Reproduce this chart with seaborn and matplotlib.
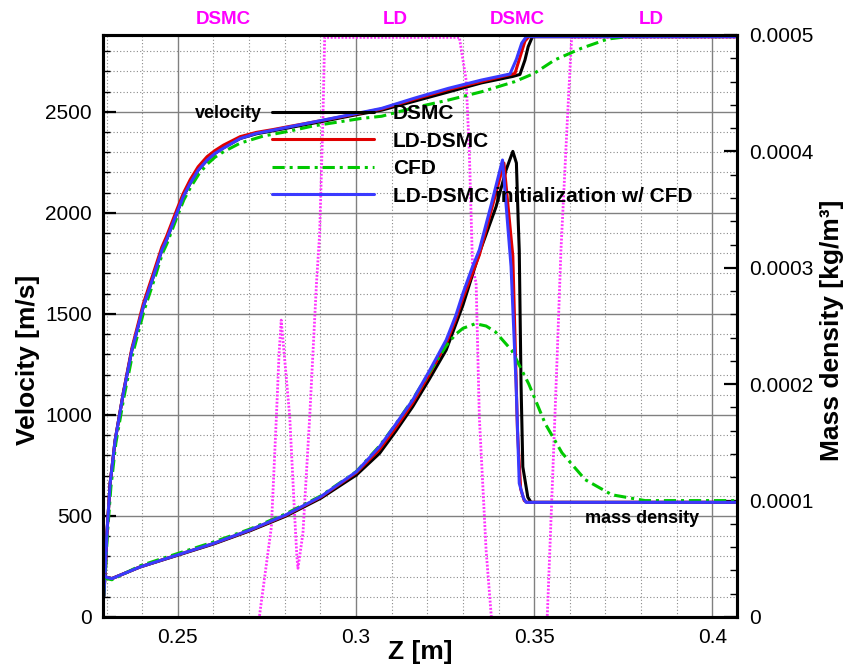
import numpy as np
import pandas as pd
import matplotlib
matplotlib.use("Agg")
import matplotlib.pyplot as plt
import matplotlib.transforms as mtrans
from matplotlib.ticker import MultipleLocator
from matplotlib.lines import Line2D
import seaborn as sns

sns.set_style("white")
plt.rcParams['font.family'] = ['Liberation Sans', 'DejaVu Sans']
plt.rcParams.update({"text.color": "black", "axes.labelcolor": "black",
                     "xtick.color": "black", "ytick.color": "black"})

# ---------------- data ----------------
# velocity [m/s]
vel_dsmc_z = [0.2292, 0.2297, 0.2301, 0.2310, 0.2324, 0.2347, 0.2371, 0.2403, 0.2431, 0.2455,
              0.2468, 0.2497, 0.2515, 0.2535, 0.2557, 0.2582, 0.2604, 0.2628, 0.2675, 0.2720,
              0.2767, 0.2815, 0.2908, 0.3002, 0.3072, 0.3165, 0.3259, 0.3352, 0.3440, 0.3460,
              0.3474, 0.3483, 0.3495, 0.3600, 0.4070]
vel_dsmc_v = [100, 240, 414, 661, 874, 1107, 1320, 1535, 1683, 1815,
              1865, 1998, 2079, 2147, 2211, 2261, 2294, 2322, 2368, 2391,
              2406, 2422, 2453, 2486, 2508, 2553, 2598, 2643, 2675, 2685,
              2756, 2822, 2872, 2872, 2872]

vel_ld_z = [0.2292, 0.2297, 0.2301, 0.2310, 0.2324, 0.2347, 0.2371, 0.2403, 0.2431, 0.2455,
            0.2468, 0.2497, 0.2515, 0.2535, 0.2557, 0.2582, 0.2604, 0.2628, 0.2675, 0.2720,
            0.2767, 0.2815, 0.2908, 0.3002, 0.3072, 0.3165, 0.3259, 0.3352, 0.3446, 0.3460,
            0.3474, 0.3485, 0.3600, 0.4070]
vel_ld_v = [100, 250, 414, 661, 874, 1110, 1330, 1550, 1700, 1830,
            1882, 2015, 2095, 2165, 2228, 2278, 2308, 2335, 2377, 2398,
            2412, 2428, 2458, 2490, 2514, 2563, 2610, 2650, 2690, 2770,
            2850, 2872, 2872, 2872]

vel_cfd_z = [0.2292, 0.2297, 0.2302, 0.2312, 0.2326, 0.2349, 0.2373, 0.2405, 0.2433, 0.2457,
             0.2470, 0.2499, 0.2517, 0.2537, 0.2559, 0.2582, 0.2604, 0.2628, 0.2675, 0.2740,
             0.2815, 0.2880, 0.3014, 0.3072, 0.3165, 0.3259, 0.3352, 0.3445, 0.3500, 0.3557,
             0.3632, 0.3706, 0.3762, 0.4070]
vel_cfd_v = [100, 230, 400, 640, 860, 1090, 1300, 1515, 1665, 1800,
             1850, 1985, 2065, 2130, 2192, 2240, 2275, 2302, 2345, 2380,
             2405, 2430, 2467, 2478, 2521, 2558, 2599, 2649, 2690, 2756,
             2814, 2860, 2872, 2872]

vel_init_z = [0.2292, 0.2296, 0.2301, 0.2310, 0.2324, 0.2347, 0.2371, 0.2403, 0.2431, 0.2455,
              0.2468, 0.2497, 0.2515, 0.2535, 0.2557, 0.2582, 0.2604, 0.2628, 0.2675, 0.2720,
              0.2767, 0.2815, 0.2908, 0.3002, 0.3072, 0.3165, 0.3259, 0.3352, 0.3432, 0.3450,
              0.3465, 0.3478, 0.3600, 0.4070]
vel_init_v = [100, 220, 414, 661, 874, 1107, 1320, 1535, 1683, 1815,
              1865, 1998, 2079, 2147, 2211, 2261, 2294, 2320, 2368, 2393,
              2409, 2426, 2459, 2492, 2517, 2568, 2616, 2657, 2687, 2760,
              2840, 2872, 2872, 2872]

# mass density [kg/m^3]
rho_dsmc_z = [0.2292, 0.2300, 0.2315, 0.2394, 0.2499, 0.2601, 0.2702, 0.2802, 0.2901, 0.3001,
              0.3066, 0.3110, 0.3159, 0.3205, 0.3253, 0.3300, 0.3346, 0.3393, 0.3421, 0.3440,
              0.3450, 0.3455, 0.3458, 0.3463, 0.3468, 0.3482, 0.3491, 0.4070]
rho_dsmc = [0.37e-4, 0.34e-4, 0.33e-4, 0.43e-4, 0.53e-4, 0.628e-4, 0.74e-4, 0.865e-4, 1.02e-4, 1.22e-4,
            1.406e-4, 1.59e-4, 1.807e-4, 2.04e-4, 2.294e-4, 2.68e-4, 3.127e-4, 3.525e-4, 3.84e-4, 4.0e-4,
            3.9e-4, 3.41e-4, 3.15e-4, 2.0e-4, 1.29e-4, 1.03e-4, 0.985e-4, 0.985e-4]

rho_ld_z = [0.2292, 0.2300, 0.2315, 0.2394, 0.2499, 0.2601, 0.2702, 0.2802, 0.2901, 0.3001,
            0.3066, 0.3110, 0.3159, 0.3205, 0.3253, 0.3280, 0.3300, 0.3346, 0.3380, 0.3415,
            0.3440, 0.3453, 0.3462, 0.3472, 0.3480, 0.4070]
rho_ld = [0.37e-4, 0.34e-4, 0.33e-4, 0.43e-4, 0.533e-4, 0.632e-4, 0.745e-4, 0.872e-4, 1.03e-4, 1.24e-4,
          1.44e-4, 1.62e-4, 1.84e-4, 2.08e-4, 2.35e-4, 2.56e-4, 2.74e-4, 3.11e-4, 3.50e-4, 3.90e-4,
          3.1e-4, 1.6e-4, 1.1e-4, 1.0e-4, 0.985e-4, 0.985e-4]

rho_cfd_z = [0.2292, 0.2300, 0.2315, 0.2394, 0.2499, 0.2601, 0.2702, 0.2802, 0.2901, 0.3001,
             0.3066, 0.3110, 0.3159, 0.3220, 0.3253, 0.3280, 0.3300, 0.3335, 0.3365, 0.3391,
             0.3437, 0.3485, 0.3531, 0.3578, 0.3643, 0.3718, 0.3811, 0.4070]
rho_cfd = [0.37e-4, 0.33e-4, 0.32e-4, 0.44e-4, 0.545e-4, 0.645e-4, 0.755e-4, 0.885e-4, 1.04e-4, 1.25e-4,
           1.47e-4, 1.65e-4, 1.87e-4, 2.17e-4, 2.33e-4, 2.43e-4, 2.48e-4, 2.52e-4, 2.50e-4, 2.45e-4,
           2.29e-4, 2.0e-4, 1.66e-4, 1.41e-4, 1.18e-4, 1.05e-4, 1.0e-4, 1.0e-4]

rho_init_z = [0.2292, 0.2300, 0.2315, 0.2394, 0.2499, 0.2601, 0.2702, 0.2802, 0.2901, 0.3001,
              0.3066, 0.3110, 0.3159, 0.3205, 0.3253, 0.3280, 0.3300, 0.3327, 0.3346, 0.3380,
              0.3411, 0.3435, 0.3449, 0.3458, 0.3470, 0.3477, 0.4070]
rho_init = [0.37e-4, 0.34e-4, 0.33e-4, 0.43e-4, 0.533e-4, 0.633e-4, 0.747e-4, 0.876e-4, 1.034e-4, 1.248e-4,
            1.463e-4, 1.65e-4, 1.864e-4, 2.11e-4, 2.38e-4, 2.59e-4, 2.781e-4, 3.01e-4, 3.153e-4, 3.55e-4,
            3.926e-4, 3.01e-4, 2.008e-4, 1.149e-4, 1.02e-4, 0.985e-4, 0.985e-4]

# LD / DSMC switching indicator (magenta dotted), drawn in velocity units
switch1_z = [0.2727, 0.2730, 0.27625, 0.27765, 0.2784, 0.2790, 0.2797, 0.2814, 0.2828, 0.2834,
             0.2837, 0.2841, 0.2851, 0.2870, 0.2889, 0.2898, 0.2907, 0.2912, 0.3290, 0.3309,
             0.3318, 0.3327, 0.3337, 0.3346, 0.3365, 0.3381]
switch1_v = [-30, 18, 446, 990, 1300, 1469, 1330, 990, 495, 300,
             241, 290, 414, 990, 1650, 1900, 2459, 2868, 2868, 2656,
             2295, 1731, 1652, 988, 330, -30]
switch2_z = [0.3535, 0.3537, 0.3551, 0.3565, 0.3575, 0.3593, 0.3605, 0.4070]
switch2_v = [-30, 18, 662, 1320, 1815, 2459, 2868, 2868]

series_labels = ["DSMC", "LD-DSMC", "CFD", "LD-DSMC initialization w/ CFD"]
series_colors = ["#000000", "#e00000", "#00c800", "#3a3aff"]
region_labels = ["DSMC", "LD", "DSMC", "LD"]
region_label_z = [0.2627, 0.3111, 0.3452, 0.3828]

vel_ticks = [0, 500, 1000, 1500, 2000, 2500]
rho_ticks = [0, 0.0001, 0.0002, 0.0003, 0.0004, 0.0005]
rho_tick_labels = ["0", "0.0001", "0.0002", "0.0003", "0.0004", "0.0005"]
z_ticks = [0.25, 0.3, 0.35, 0.4]
z_tick_labels = ["0.25", "0.3", "0.35", "0.4"]

# ---------------- figure ----------------
W, H = 849, 672
fig = plt.figure(figsize=(W / 100, H / 100), dpi=100)
ax = fig.add_axes([103 / W, 1 - 617 / H, 634 / W, 582 / H])
ax2 = ax.twinx()

lw = 2.2
styles = ["-", "-", (0, (4.0, 1.6, 1.0, 1.6)), "-"]

magenta_kw = dict(color="#ff33ff", lw=2.0, linestyle=(0, (0.7, 0.6)))
for zz, vv in [(switch1_z, switch1_v), (switch2_z, switch2_v)]:
    sns.lineplot(x=zz, y=vv, ax=ax, sort=False, estimator=None, legend=False, **magenta_kw)

vel_sets = [(vel_dsmc_z, vel_dsmc_v), (vel_ld_z, vel_ld_v), (vel_cfd_z, vel_cfd_v), (vel_init_z, vel_init_v)]
rho_sets = [(rho_dsmc_z, rho_dsmc), (rho_ld_z, rho_ld), (rho_cfd_z, rho_cfd), (rho_init_z, rho_init)]
for (zz, vv), c, s in zip(vel_sets, series_colors, styles):
    df = pd.DataFrame({"z": zz, "v": vv})
    sns.lineplot(data=df, x="z", y="v", ax=ax, sort=False, estimator=None, legend=False,
                 color=c, lw=lw, linestyle=s)
for (zz, rr), c, s in zip(rho_sets, series_colors, styles):
    df = pd.DataFrame({"z": zz, "rho": rr})
    sns.lineplot(data=df, x="z", y="rho", ax=ax2, sort=False, estimator=None, legend=False,
                 color=c, lw=lw, linestyle=s)

ax.set_xlim(0.229, 0.4069)
ax.set_ylim(0, 2880)
ax2.set_ylim(0, 0.0005)

# grid
ax.set_axisbelow(True)
ax.xaxis.set_minor_locator(MultipleLocator(0.01))
ax.yaxis.set_minor_locator(MultipleLocator(100))
ax.grid(which="major", color="#808080", lw=1.0, ls="-")
ax.grid(which="minor", color="#8a8a8a", lw=0.8, ls=(0, (1, 2)))
ax2.yaxis.set_minor_locator(MultipleLocator(0.00002))
ax2.grid(False)

# ticks
ax.set_xticks(z_ticks)
ax.set_xticklabels(z_tick_labels)
ax.set_yticks(vel_ticks)
ax.set_yticklabels([str(t) for t in vel_ticks])
ax2.set_yticks(rho_ticks)
ax2.set_yticklabels(rho_tick_labels)

tick_font = 15
ax.tick_params(axis="both", which="major", direction="in", length=9.5, width=1.6,
               labelsize=tick_font, pad=8, top=False, right=False, color="black", labelcolor="black")
ax.tick_params(axis="both", which="minor", direction="in", length=5, width=1.0,
               top=False, right=False, color="black")
ax2.tick_params(axis="y", which="major", direction="in", length=9.5, width=1.6,
                labelsize=tick_font, pad=9, left=False, right=True, color="black", labelcolor="black")
ax2.tick_params(axis="y", which="minor", direction="in", length=5, width=1.0, left=False, right=True,
                color="black")
ax2.tick_params(axis="x", which="both", top=False, bottom=False)

for a in (ax, ax2):
    for sp in a.spines.values():
        sp.set_linewidth(2.2)
        sp.set_color("black")
        sp.set_visible(True)

# axis labels
lab_font = 19
ax.set_xlabel("Z [m]", fontsize=lab_font, fontweight="bold", va="center")
ax.xaxis.set_label_coords((420 - 103) / 634, (617 - 652) / 582)
ax.set_ylabel("Velocity [m/s]", fontsize=lab_font, fontweight="bold", va="center")
ax.yaxis.set_label_coords((28 - 103) / 634, (617 - 360) / 582)
ax2.set_ylabel("Mass density [kg/m³]", fontsize=lab_font, fontweight="bold", va="center", rotation=90)
ax2.yaxis.set_label_coords((832 - 103) / 634, (617 - 330) / 582)

# region labels on top
trans_top = mtrans.blended_transform_factory(ax.transData, fig.transFigure)
for lab, zc in zip(region_labels, region_label_z):
    ax.text(zc, 1 - 19 / H, lab, transform=trans_top, ha="center", va="center",
            color="#ff00ff", fontsize=13.5, fontweight="bold", clip_on=False)

# annotations
ax.text(0.2735, 2493, "velocity", ha="right", va="center", fontsize=13, fontweight="bold")
ax2.text(0.3803, 0.85e-4, "mass density", ha="center", va="center", fontsize=13, fontweight="bold")

# legend
handles = [Line2D([], [], color=c, lw=lw, linestyle=s) for c, s in zip(series_colors, styles)]
leg_font = 15
ax2.legend(handles, series_labels, loc="upper left",
           bbox_to_anchor=(272 / W, 1 - 104 / H), bbox_transform=fig.transFigure,
           frameon=False, prop={"weight": "bold", "size": leg_font},
           handlelength=4.9, handletextpad=0.9, labelspacing=0.41, borderpad=0, borderaxespad=0)

fig.savefig("out.png", dpi=100)
